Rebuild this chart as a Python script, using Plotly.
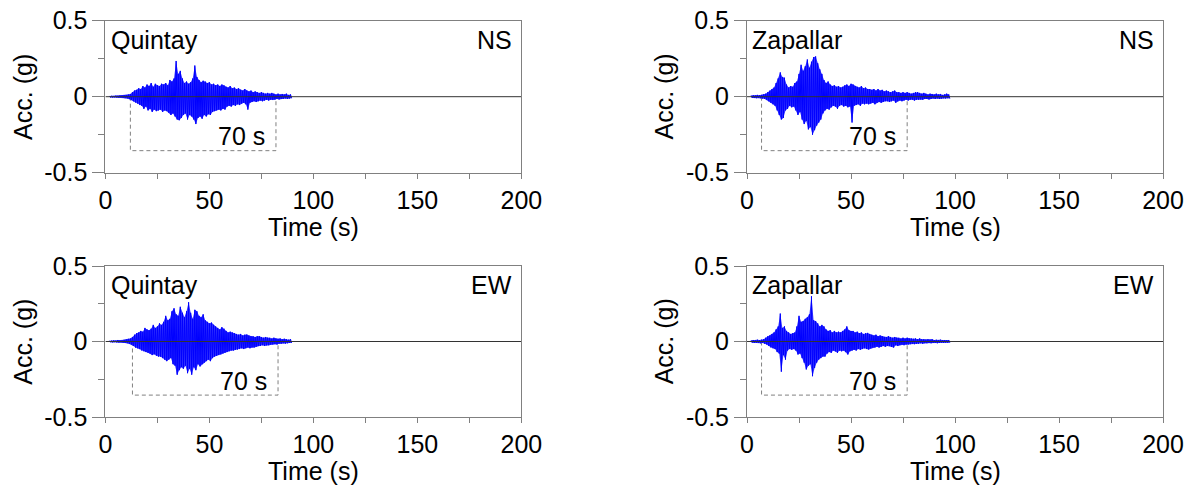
import plotly.graph_objects as go
from plotly.subplots import make_subplots

# ---------------- data ----------------
stations = ["Quintay", "Zapallar", "Quintay", "Zapallar"]
components = ["NS", "NS", "EW", "EW"]

t_start = 2.0      # s, first sample shown
dt_peak = 1.0      # s, spacing of positive peaks (negative peaks sit half way)

quintay_ns_up = [0.005, 0.006, 0.005, 0.007, 0.006, 0.008, 0.008,
                 0.010, 0.012, 0.015, 0.018,
                 0.030, 0.040, 0.045,
                 0.055, 0.050, 0.070, 0.060,
                 0.080, 0.070, 0.090, 0.065, 0.085, 0.075,
                 0.070, 0.085, 0.080, 0.090, 0.075,
                 0.110, 0.100, 0.120,
                 0.235,
                 0.150, 0.170, 0.120,
                 0.090, 0.100, 0.085, 0.095,
                 0.120, 0.205, 0.130,
                 0.110, 0.095, 0.105, 0.100, 0.090, 0.095,
                 0.080, 0.085, 0.075, 0.080, 0.070, 0.080, 0.075,
                 0.065, 0.060, 0.070, 0.055, 0.060, 0.050, 0.055,
                 0.045, 0.040, 0.050, 0.040, 0.035, 0.040, 0.030, 0.035,
                 0.030, 0.025, 0.030, 0.025, 0.020, 0.025, 0.020, 0.025,
                 0.020, 0.015, 0.020, 0.015, 0.018, 0.015, 0.020, 0.012, 0.015]
quintay_ns_dn = [-0.005, -0.006, -0.005, -0.006, -0.007, -0.006, -0.008,
                 -0.010, -0.012, -0.016, -0.020,
                 -0.030, -0.038, -0.045,
                 -0.055, -0.060, -0.080, -0.065,
                 -0.090, -0.080, -0.100, -0.085, -0.095, -0.090,
                 -0.085, -0.100, -0.090, -0.095, -0.105,
                 -0.120, -0.110, -0.130,
                 -0.150,
                 -0.155, -0.140, -0.120,
                 -0.110, -0.150, -0.120, -0.130,
                 -0.150, -0.180, -0.140,
                 -0.130, -0.145, -0.120, -0.130, -0.115, -0.120,
                 -0.100, -0.095, -0.090, -0.085, -0.090, -0.080, -0.085,
                 -0.065, -0.060, -0.065, -0.055, -0.060, -0.050, -0.055,
                 -0.045, -0.040, -0.050, -0.085, -0.040, -0.035, -0.030, -0.035,
                 -0.030, -0.025, -0.030, -0.025, -0.020, -0.025, -0.020, -0.022,
                 -0.020, -0.015, -0.018, -0.015, -0.015, -0.012, -0.015, -0.012, -0.010]

zapallar_ns_up = [0.008, 0.010, 0.009, 0.012, 0.010, 0.012,
                  0.015, 0.020, 0.030,
                  0.040, 0.050, 0.060,
                  0.090, 0.120, 0.160, 0.130, 0.125,
                  0.080, 0.060, 0.070, 0.065, 0.090,
                  0.100, 0.150, 0.210, 0.170, 0.200, 0.245, 0.190, 0.230, 0.260, 0.265, 0.220, 0.180, 0.150,
                  0.110, 0.090, 0.100, 0.080,
                  0.070, 0.075, 0.065, 0.070, 0.060, 0.065,
                  0.075, 0.080, 0.070, 0.085,
                  0.080, 0.070, 0.065, 0.060, 0.070, 0.055, 0.060, 0.050,
                  0.050, 0.045, 0.050, 0.040, 0.050, 0.040, 0.045, 0.035,
                  0.040, 0.035, 0.030, 0.035, 0.040, 0.030, 0.030, 0.025, 0.030,
                  0.025, 0.030, 0.025, 0.020, 0.025, 0.030, 0.030, 0.025, 0.020, 0.025,
                  0.020, 0.015, 0.020, 0.018, 0.015, 0.020, 0.015, 0.018, 0.012, 0.015, 0.020, 0.015]
zapallar_ns_dn = [-0.008, -0.009, -0.010, -0.008, -0.010, -0.012,
                  -0.015, -0.020, -0.030,
                  -0.040, -0.050, -0.060,
                  -0.090, -0.120, -0.150, -0.140, -0.090,
                  -0.080, -0.060, -0.070, -0.065, -0.090,
                  -0.120, -0.100, -0.150, -0.180, -0.160, -0.215, -0.200, -0.250, -0.220, -0.190, -0.170, -0.150, -0.110,
                  -0.090, -0.080, -0.085, -0.070,
                  -0.060, -0.065, -0.080, -0.060, -0.055, -0.065,
                  -0.060, -0.070, -0.065, -0.170,
                  -0.060, -0.055, -0.050, -0.060, -0.045, -0.050, -0.045, -0.050,
                  -0.045, -0.040, -0.050, -0.040, -0.035, -0.040, -0.035, -0.030,
                  -0.030, -0.035, -0.030, -0.025, -0.040, -0.030, -0.025, -0.030, -0.025,
                  -0.020, -0.025, -0.020, -0.020, -0.025, -0.020, -0.020, -0.018, -0.020, -0.015,
                  -0.015, -0.018, -0.015, -0.012, -0.015, -0.012, -0.015, -0.012, -0.010, -0.012, -0.010, -0.012]

quintay_ew_up = [0.005, 0.006, 0.008, 0.006, 0.010, 0.007, 0.008,
                 0.012, 0.015, 0.018, 0.020,
                 0.030, 0.045, 0.055,
                 0.060, 0.070, 0.065, 0.090,
                 0.080, 0.075, 0.085, 0.110, 0.090,
                 0.100, 0.120, 0.110, 0.130,
                 0.170, 0.140, 0.150,
                 0.200, 0.220, 0.180, 0.170, 0.230, 0.190, 0.160, 0.200, 0.260, 0.190, 0.150, 0.210, 0.200, 0.170, 0.160, 0.180, 0.140,
                 0.130, 0.120, 0.125, 0.110,
                 0.100, 0.090, 0.080, 0.095, 0.085,
                 0.070, 0.060, 0.065, 0.060, 0.055,
                 0.050, 0.045, 0.050, 0.040, 0.045, 0.046, 0.040, 0.035,
                 0.035, 0.030, 0.035, 0.035, 0.030, 0.025, 0.030, 0.025,
                 0.025, 0.020, 0.025, 0.020, 0.018, 0.020, 0.015, 0.018, 0.015, 0.012, 0.015]
quintay_ew_dn = [-0.005, -0.006, -0.005, -0.007, -0.008, -0.006, -0.008,
                 -0.010, -0.012, -0.016, -0.020,
                 -0.030, -0.040, -0.045,
                 -0.050, -0.060, -0.065, -0.070,
                 -0.075, -0.080, -0.090, -0.085, -0.095,
                 -0.100, -0.100, -0.110, -0.120,
                 -0.130, -0.120, -0.110,
                 -0.150, -0.160, -0.220, -0.190, -0.170, -0.180, -0.160, -0.210, -0.180, -0.220, -0.170, -0.190, -0.150, -0.165, -0.150, -0.140, -0.130,
                 -0.120, -0.130, -0.110, -0.100,
                 -0.095, -0.090, -0.086, -0.080, -0.075,
                 -0.070, -0.065, -0.060, -0.060, -0.055,
                 -0.053, -0.050, -0.045, -0.050, -0.045, -0.040, -0.045, -0.040,
                 -0.040, -0.035, -0.030, -0.030, -0.025, -0.030, -0.025, -0.025,
                 -0.020, -0.020, -0.018, -0.020, -0.015, -0.015, -0.012, -0.015, -0.012, -0.010, -0.010]

zapallar_ew_up = [0.008, 0.010, 0.008, 0.012, 0.010, 0.012,
                  0.015, 0.025, 0.035,
                  0.040, 0.050, 0.060,
                  0.080, 0.100, 0.185, 0.090, 0.100,
                  0.070, 0.060, 0.050, 0.055, 0.060,
                  0.100, 0.170, 0.130, 0.135, 0.150, 0.160, 0.180, 0.300, 0.140, 0.135, 0.120, 0.100, 0.110,
                  0.100, 0.080, 0.070, 0.075,
                  0.060, 0.070, 0.060, 0.065, 0.060, 0.070,
                  0.080, 0.100, 0.075, 0.070,
                  0.070, 0.060, 0.065, 0.055, 0.060, 0.050, 0.055, 0.057,
                  0.050, 0.045, 0.040, 0.045, 0.035, 0.040, 0.035, 0.030,
                  0.030, 0.035, 0.030, 0.025, 0.030, 0.025, 0.025, 0.020, 0.025,
                  0.020, 0.025, 0.020, 0.020, 0.018, 0.020, 0.015, 0.020, 0.015, 0.015,
                  0.012, 0.015, 0.012, 0.015, 0.010, 0.012, 0.010, 0.012, 0.010, 0.010, 0.008, 0.010]
zapallar_ew_dn = [-0.008, -0.010, -0.009, -0.010, -0.012, -0.010,
                  -0.015, -0.020, -0.030,
                  -0.040, -0.045, -0.050,
                  -0.070, -0.080, -0.200, -0.090, -0.120,
                  -0.060, -0.050, -0.055, -0.050, -0.060,
                  -0.086, -0.080, -0.110, -0.140, -0.185, -0.160, -0.150, -0.230, -0.175, -0.140, -0.120, -0.110, -0.100,
                  -0.100, -0.080, -0.070, -0.075,
                  -0.060, -0.065, -0.075, -0.060, -0.065, -0.060,
                  -0.070, -0.086, -0.065, -0.060,
                  -0.055, -0.060, -0.050, -0.055, -0.050, -0.045, -0.050, -0.053,
                  -0.045, -0.040, -0.040, -0.035, -0.040, -0.035, -0.030, -0.035,
                  -0.030, -0.030, -0.035, -0.040, -0.025, -0.030, -0.025, -0.020, -0.025,
                  -0.020, -0.020, -0.018, -0.015, -0.018, -0.015, -0.015, -0.012, -0.015, -0.012,
                  -0.012, -0.010, -0.012, -0.010, -0.010, -0.012, -0.010, -0.008, -0.010, -0.008, -0.008, -0.008]

peaks_up = [quintay_ns_up, zapallar_ns_up, quintay_ew_up, zapallar_ew_up]
peaks_dn = [quintay_ns_dn, zapallar_ns_dn, quintay_ew_dn, zapallar_ew_dn]

# 70 s significant-duration brackets
bracket_start = [12, 7, 13, 7]
bracket_end = [82, 77, 83, 77]
bracket_depth = -0.355
bracket_label = "70 s"

x_ticks = [0, 25, 50, 75, 100, 125, 150, 175, 200]
x_ticktext = ["0", "", "50", "", "100", "", "150", "", "200"]
y_ticks = [-0.5, 0, 0.5]
y_ticktext = ["-0.5", "0", "0.5"]
y_minor_ticks = [-0.25, 0.25]

# ---------------- figure ----------------
VW, VH = 1192, 487        # browser window
OFF = 8                   # default page body margin (figure starts at 8,8)
W, H = VW - OFF, VH - OFF
FONT = "Liberation Sans, Arial, sans-serif"
FS = 25
GRAY = "#808080"


def px_x(p):
    return (p - OFF) / W


def px_y(p):
    return 1 - (p - OFF) / H


fig = make_subplots(rows=2, cols=2)

# panel pixel boxes (window coordinates) -> paper domains
x_dom = [[px_x(105.4), px_x(521.4)], [px_x(747), px_x(1163)]]
y_dom = [[px_y(172.7), px_y(20.7)], [px_y(417), px_y(266)]]

for k in range(4):
    r, c = k // 2 + 1, k % 2 + 1
    up, dn = peaks_up[k], peaks_dn[k]
    t_up = [t_start + i * dt_peak for i in range(len(up))]
    t_dn = [t + dt_peak / 2 for t in t_up]
    xs, ys = [], []
    for i in range(len(up)):
        xs += [t_up[i], t_dn[i]]
        ys += [up[i], dn[i]]

    # dashed duration bracket
    b0, b1 = bracket_start[k], bracket_end[k]
    fig.add_trace(go.Scatter(x=[b0, b0, b1, b1], y=[0, bracket_depth, bracket_depth, 0],
                             mode="lines", line=dict(color=GRAY, width=1, dash="4px,3px"),
                             hoverinfo="skip", showlegend=False), row=r, col=c)
    # envelope of the record
    fig.add_trace(go.Scatter(x=t_up + t_dn[::-1], y=up + dn[::-1], mode="lines",
                             fill="toself", fillcolor="rgba(20,20,255,0.85)",
                             line=dict(width=0), hoverinfo="skip", showlegend=False),
                  row=r, col=c)
    # accelerogram
    fig.add_trace(go.Scatter(x=xs, y=ys, mode="lines",
                             line=dict(color="#0000ff", width=1),
                             name=f"{stations[k]} {components[k]}", showlegend=False),
                  row=r, col=c)
    # zero line
    fig.add_trace(go.Scatter(x=[0, 200], y=[0, 0], mode="lines",
                             line=dict(color="#333333", width=1),
                             hoverinfo="skip", showlegend=False), row=r, col=c)

    common = dict(showline=True, linecolor=GRAY, linewidth=1, mirror=True,
                  showgrid=False, zeroline=False, automargin=False,
                  ticklabeloverflow="allow",
                  tickfont=dict(family=FONT, size=FS, color="black"))
    fig.update_xaxes(domain=x_dom[c - 1], range=[0, 200], tickmode="array",
                     tickvals=x_ticks, ticktext=x_ticktext, ticks="outside", ticklen=5,
                     tickcolor=GRAY, row=r, col=c, **common)
    fig.update_yaxes(domain=y_dom[r - 1], range=[-0.5, 0.5], tickmode="array",
                     tickvals=y_ticks, ticktext=y_ticktext, ticks="outside", ticklen=12,
                     tickcolor=GRAY,
                     minor=dict(tickmode="array", tickvals=y_minor_ticks, ticks="outside",
                                ticklen=6, tickcolor=GRAY, showgrid=False),
                     row=r, col=c, **common)

    ax = "" if k == 0 else str(k + 1)
    xref, yref = f"x{ax} domain", f"y{ax} domain"
    tf = dict(family=FONT, size=FS, color="black")
    fig.add_annotation(text=stations[k], xref=xref, yref=yref, x=0.008, y=0.875,
                       xanchor="left", yanchor="middle", showarrow=False, font=tf)
    fig.add_annotation(text=components[k], xref=xref, yref=yref, x=0.982, y=0.875,
                       xanchor="right", yanchor="middle", showarrow=False, font=tf)
    fig.add_annotation(text=bracket_label, xref=f"x{ax}", yref=f"y{ax}", x=b1 - 4.5, y=-0.26,
                       xanchor="right", yanchor="middle", showarrow=False, font=tf)
    fig.add_annotation(text="Time (s)", xref=xref, yref=yref, x=0.5, y=0,
                       yshift=-54, xanchor="center", yanchor="middle", showarrow=False, font=tf)
    fig.add_annotation(text="Acc. (g)", xref=xref, yref=yref, x=-0.2, y=0.5, textangle=-90,
                       xanchor="center", yanchor="middle", showarrow=False, font=tf)

fig.update_layout(width=W, height=H, margin=dict(l=0, r=0, t=0, b=0),
                  paper_bgcolor="white", plot_bgcolor="white", showlegend=False)

fig.write_html("out.html")
